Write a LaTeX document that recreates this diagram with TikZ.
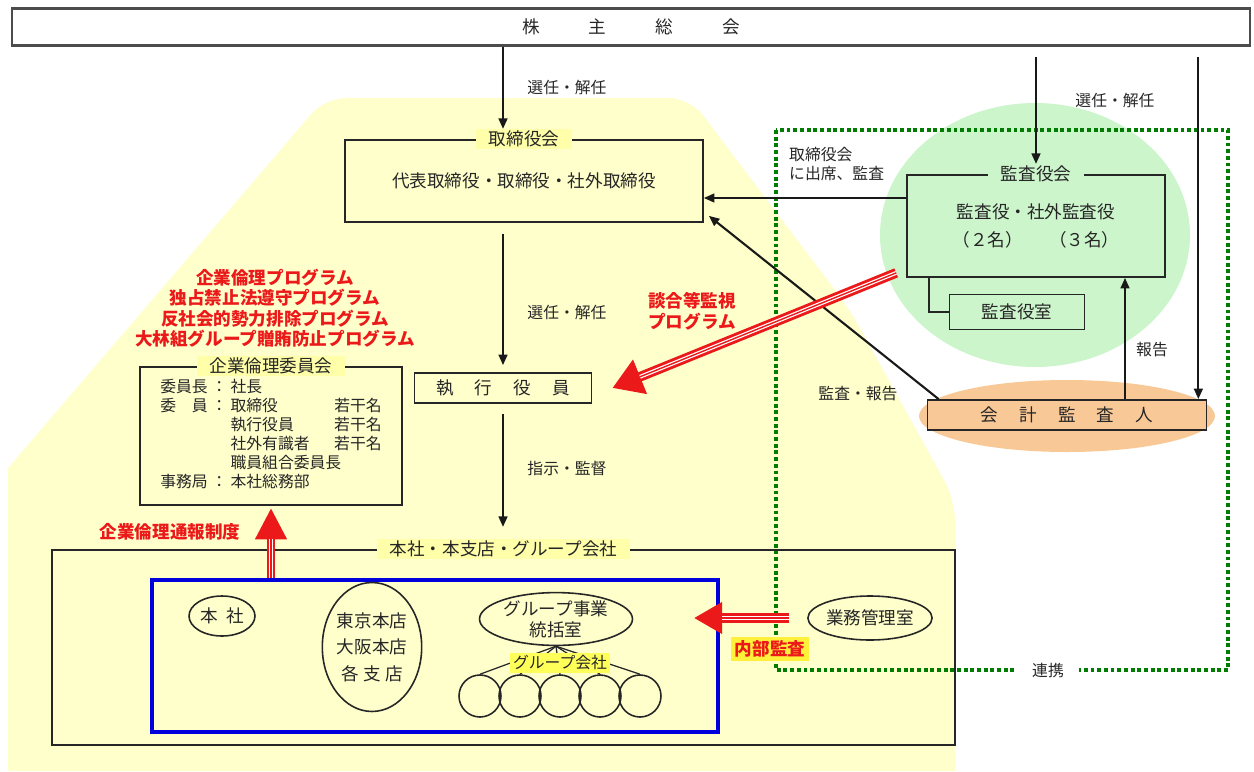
\documentclass[tikz,border=0pt]{standalone}
\usepackage{fontspec}
\setmainfont{Noto Sans CJK JP}
\usetikzlibrary{shapes.geometric,arrows.meta}

\definecolor{kiiro}{RGB}{255,255,204}
\definecolor{kiiromidashi}{RGB}{255,255,170}
\definecolor{kiirokoi}{RGB}{255,255,90}
\definecolor{kiiroaka}{RGB}{255,240,60}
\definecolor{midori}{RGB}{204,245,204}
\definecolor{midoriten}{RGB}{0,125,0}
\definecolor{daidai}{RGB}{248,200,150}
\definecolor{akai}{RGB}{235,25,25}
\definecolor{ao}{RGB}{0,0,220}

% red arrow with white stripes: start, end, head length, head width, shaft width
\newcommand\akaya[5]{%
  \draw[akai, line width=#5, -{Triangle[length=#3,width=#4]}] #1 -- #2;
  \draw[white, line width=0.7pt, double=akai, double distance=0.8pt, shorten >=#3] #1 -- #2;
}

\begin{document}
\begin{tikzpicture}[x=0.02cm, y=-0.02cm, font=\fontsize{10}{12}\selectfont, text=black!85,
  box/.style={draw=black!85, line width=1pt, inner sep=0pt},
  oval/.style={draw=black!85, line width=0.9pt, ellipse, inner sep=0pt},
  maru/.style={draw=black!85, line width=0.9pt, circle, minimum size=0.84cm, inner sep=0pt},
  title/.style={fill=kiiromidashi, inner xsep=0.25cm, inner ysep=1pt},
  lbl/.style={font=\fontsize{9}{11}\selectfont},
  redtxt/.style={text=akai, font=\bfseries\fontsize{10}{11.7}\selectfont, align=center},
  arr/.style={-{Triangle[length=6pt,width=5pt]}, line width=1.2pt, black!90},
  tenten/.style={draw=midoriten, line width=2.2pt, dash pattern=on 2.2pt off 1.6pt}]
\useasboundingbox (0,0) rectangle (1254,771);

% background areas
\fill[kiiro] (8,771) -- (8,468) [rounded corners=12pt] -- (325,98) -- (690,98) -- (850,310) -- (955,500) [sharp corners] -- (955,771) -- cycle;
\fill[midori] (1035,235) ellipse [x radius=155, y radius=132];
\fill[daidai] (1067,416) ellipse [x radius=148, y radius=36];
\draw[tenten] (776,130) rectangle (1228,670);
\node[fill=white, lbl, inner xsep=0.3cm] (renkei) at (1048,670) {連携};

% shareholders
\node[box, draw=black!70, line width=1.4pt, minimum width=24.76cm, minimum height=0.74cm] (kabunushi) at (631,27) {株\hspace{2.8em}主\hspace{2.8em}総\hspace{2.8em}会};

% board
\node[box, minimum width=7.16cm, minimum height=1.64cm] (torishimari) at (524,181) {代表取締役・取締役・社外取締役};
\node[title] (torititle) at (torishimari.north) {取締役会};
\node[box, minimum width=3.54cm, minimum height=0.6cm] (shikko) at (503,388) {執\hspace{1.2em}行\hspace{1.2em}役\hspace{1.2em}員};

% auditors
\node[box, minimum width=5.16cm, minimum height=2.04cm, align=center] (kansa) at (1036,226) {監査役・社外監査役\\[4pt]（２名）\hspace{1.5em}（３名）};
\node[title, fill=midori] (kansatitle) at (kansa.north) {監査役会};
\node[box, minimum width=2.7cm, minimum height=0.7cm] (kansashitsu) at (1017,312) {監査役室};
\draw[line width=1pt, black!85] ([xshift=0.46cm]kansa.south west) |- (kansashitsu.west);
\node[box, fill=daidai, minimum width=5.58cm, minimum height=0.6cm] (kaikei) at (1067,415) {会\hspace{1.2em}計\hspace{1.2em}監\hspace{1.2em}査\hspace{1.2em}人};

% ethics committee
\node[redtxt] (programs) at (275,308) {企業倫理プログラム\\独占禁止法遵守プログラム\\反社会的勢力排除プログラム\\大林組グループ贈賄防止プログラム};
\node[box, minimum width=5.24cm, minimum height=2.76cm] (iinkai) at (271,436) {\fontsize{9}{10.5}\selectfont
  \begin{tabular}{@{}l@{\hspace{2pt}}c@{\hspace{2pt}}l@{\hspace{14pt}}l@{}}
  委員長 & ： & 社長 \\
  委\hspace{1em}員 & ： & 取締役 & 若干名 \\
   & & 執行役員 & 若干名 \\
   & & 社外有識者 & 若干名 \\
   & & \multicolumn{2}{@{}l@{}}{職員組合委員長} \\
  事務局 & ： & 本社総務部 \\
  \end{tabular}};
\node[title] (iinkaititle) at (iinkai.north) {企業倫理委員会};

% head office and group
\node[box, minimum width=18.06cm, minimum height=3.9cm] (honshagroup) at (503.5,647.5) {};
\node[title] (hgtitle) at (honshagroup.north) {本社・本支店・グループ会社};
\node[draw=ao, line width=2.2pt, minimum width=11.32cm, minimum height=3.04cm] (kyoten) at (435,656) {};
\node[oval, minimum width=1.32cm, minimum height=0.8cm] (honsha) at (222,616) {本\hspace{0.5em}社};
\node[oval, minimum width=1.82cm, minimum height=2.58cm, align=center] (shiten) at (372,647) {東京本店\\[3pt]大阪本店\\[3pt]各\hspace{0.25em}支\hspace{0.25em}店};
\node[oval, minimum width=3.06cm, minimum height=0.96cm, align=center] (tokatsu) at (556,619) {グループ事業\\統括室};
\foreach \i/\x in {1/480,2/520,3/560,4/600,5/640}
  \node[maru] (ko\i) at (\x,696) {};
\foreach \i in {1,...,5}
  \draw[line width=0.7pt, black!85] (tokatsu.south) -- (ko\i.north);
\node[fill=kiirokoi, lbl, inner sep=1.5pt] (kogaisha) at (560,663) {グループ会社};
\node[oval, minimum width=2.48cm, minimum height=0.88cm] (gyomu) at (870,618) {業務管理室};

% arrows
\draw[arr] (kabunushi.south -| shikko) -- (torititle.north -| shikko);
\node[lbl] (senkai1) at (567,87) {選任・解任};
\draw[arr, shorten <=0.22cm, shorten >=0.14cm] (torishimari.south -| shikko) -- (shikko.north);
\node[lbl] (senkai2) at (567,312) {選任・解任};
\draw[arr, shorten <=0.2cm, shorten >=0.24cm] (shikko.south) -- (hgtitle.north -| shikko);
\node[lbl] (shiji) at (567,468) {指示・監督};

\coordinate (kaikeiN) at ([xshift=-0.18cm]kaikei.north east);
\draw[arr, shorten <=0.2cm] (kabunushi.south -| kaikeiN) -- (kaikeiN);
\draw[arr, shorten <=0.2cm] (kabunushi.south -| kansatitle) -- (kansatitle.north);
\node[lbl] (senkai3) at (1115,100) {選任・解任};

\coordinate (hokokuS) at ([xshift=1.16cm]kaikei.north);
\draw[arr] (hokokuS) -- (kansa.south -| hokokuS);
\node[lbl] (hokoku) at (1152,350) {報告};

\coordinate (toriE) at ([yshift=-0.34cm]torishimari.east);
\draw[arr] (kansa.west |- toriE) -- (toriE);
\node[lbl, anchor=west, align=left] (shusseki) at (783,164) {取締役会\\に出席、監査};

\draw[arr] ([xshift=0.24cm]kaikei.north west) -- ([xshift=0.1cm,yshift=0.14cm]torishimari.south east);
\node[lbl] (kansahokoku) at (858,394) {監査・報告};

% red arrows
\akaya{([xshift=-0.2cm,yshift=0.1cm]kansa.south west)}{([xshift=0.4cm]shikko.east)}{17pt}{20pt}{5.5pt}
\node[redtxt] (dango) at (692,311) {談合等監視\\プログラム};

\akaya{(kyoten.north -| iinkai.south)}{([yshift=-0.04cm]iinkai.south)}{18pt}{17pt}{4.5pt}
\node[redtxt] (tsuho) at (170,532) {企業倫理通報制度};

\coordinate (naibuTip) at (kyoten.east |- gyomu.west);
\akaya{([xshift=-0.36cm]gyomu.west)}{([xshift=-0.52cm]naibuTip)}{16pt}{17pt}{5.5pt}
\node[fill=kiiroaka, redtxt, inner sep=2pt] (naibu) at (770,649) {内部監査};
\end{tikzpicture}
\end{document}
